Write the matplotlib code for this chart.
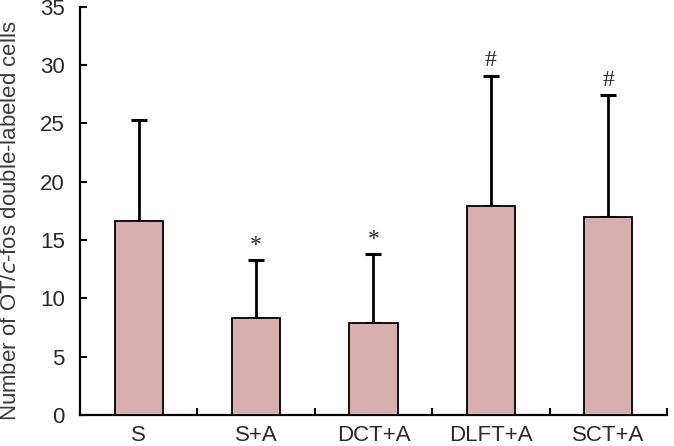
import matplotlib
matplotlib.use("Agg")
import matplotlib.pyplot as plt
import numpy as np

plt.rcParams['font.family'] = ['Liberation Sans', 'DejaVu Sans']

# group names, mean and upper error (SD)
groups = ["S", "S+A", "DCT+A", "DLFT+A", "SCT+A"]
means = [16.6, 8.3, 7.9, 17.95, 17.0]
errs = [8.7, 5.0, 5.9, 11.15, 10.4]
marks = ["", "*", "*", "#", "#"]

bar_color = "#d8afb1"
text_color = "#2a2a2a"

fig = plt.figure(figsize=(6.74, 4.46), dpi=100)
ax = fig.add_axes([0.1187, 0.0695, 0.8709, 0.9155])

x = np.arange(len(groups))
ax.bar(x, means, width=0.41, color=bar_color, edgecolor="black", linewidth=1.3, zorder=3)
ax.errorbar(x, means, yerr=[np.zeros(len(means)), errs], fmt="none",
            ecolor="black", elinewidth=2.0, capsize=5.5, capthick=2.2, zorder=2)

# significance marks above the caps
for xi, m, e, s in zip(x, means, errs, marks):
    if s:
        ax.annotate(s, (xi, m + e), xytext=(0, 3), textcoords="offset points",
                    ha="center", va="bottom", fontsize=17,
                    family="Liberation Serif", color=text_color)

ax.set_xlim(-0.5, len(groups) - 0.5)
ax.set_ylim(0, 35)
ax.set_yticks(np.arange(0, 36, 5))

ax.set_xticks(x)
ax.set_xticklabels(groups)
ax.set_xticks(np.arange(0.5, len(groups), 1.0), minor=True)
ax.tick_params(axis="x", which="major", length=0, pad=7, labelsize=16, labelcolor=text_color)
ax.tick_params(axis="x", which="minor", direction="in", length=5, width=1.5)
ax.tick_params(axis="y", direction="in", length=5, width=1.5, pad=11,
               labelsize=16, labelcolor=text_color)

for side in ["top", "right"]:
    ax.spines[side].set_visible(False)
for side in ["left", "bottom"]:
    ax.spines[side].set_linewidth(1.6)

ax.set_ylabel("Number of OT/$\\mathit{c}$-fos double-labeled cells",
              fontsize=16, color="#3a3a3a")
ax.yaxis.set_label_coords(-0.1, 0.475)

fig.savefig("out.png", dpi=100)
